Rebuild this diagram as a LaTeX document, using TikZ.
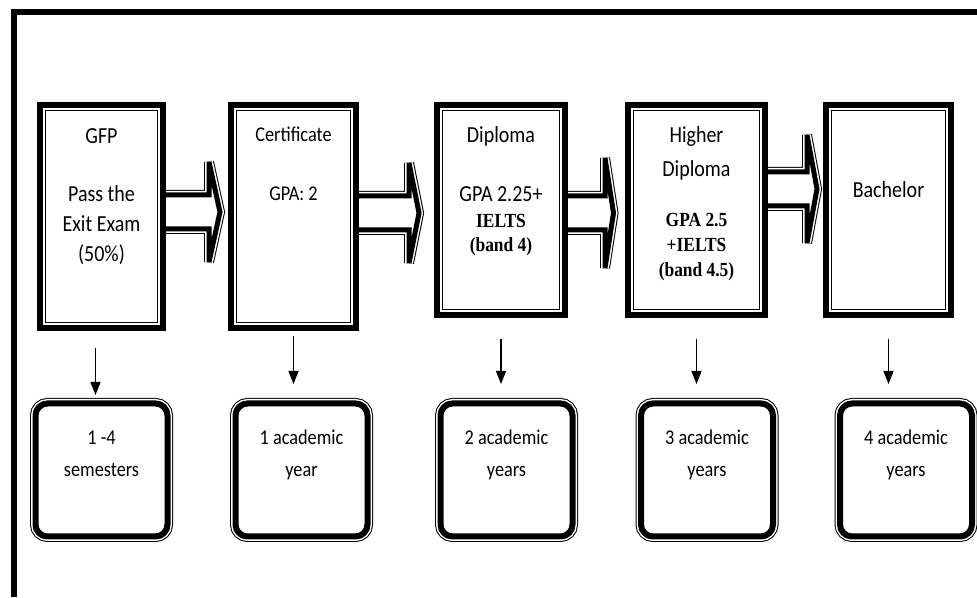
\documentclass[tikz,border=0pt]{standalone}
\usepackage{fontspec}
\setmainfont{Carlito}[FakeStretch=0.87]
\newfontfamily\timesfont{Liberation Serif}[FakeStretch=0.87]
\usetikzlibrary{arrows.meta,calc,backgrounds}

\newcommand{\boxtext}[3]{\parbox[c][#2][t]{#1}{\centering #3}}
\newcommand{\tb}{\timesfont\bfseries\fontsize{20}{30}\selectfont}
% hollow block arrow: from, to, y, head half width, head length, gap
\newcommand{\fatarrow}[6]{%
  \draw[blockarrow] let \p1=(#1.east), \p2=(#2.west) in
    (\x1-10pt,#3+17) -- (\x2-#6pt-#5pt,#3+17) -- (\x2-#6pt-#5pt,#3+#4)
    -- (\x2-#6pt,#3) -- (\x2-#6pt-#5pt,#3-#4) -- (\x2-#6pt-#5pt,#3-17)
    -- (\x1-10pt,#3-17) -- cycle;}

\begin{document}
\begin{tikzpicture}[%
    x=1pt, y=1pt,
    >={Triangle[length=13pt,width=10pt]},
    stage/.style={draw, fill=white, line width=6pt, inner sep=0pt,
      font=\fontsize{23}{30}\selectfont,
      path picture={\draw[line width=1pt]
        ([shift={(5.5pt,5.5pt)}]path picture bounding box.south west) rectangle
        ([shift={(-5.5pt,-5.5pt)}]path picture bounding box.north east);}},
    period/.style={draw, fill=white, line width=6pt, rounded corners=12pt,
      inner sep=0pt, font=\fontsize{21}{32}\selectfont,
      preaction={draw, line width=11pt},
      preaction={draw, white, line width=9pt}},
    blockarrow/.style={draw, fill=white, line width=5pt, miter limit=2,
      preaction={draw, line width=10pt, miter limit=2},
      preaction={draw, white, line width=8pt, miter limit=2}},
    down/.style={->, line width=1.2pt}
  ]
    \useasboundingbox (0,0) rectangle (977,597);
    \draw[line width=6pt] (13.5,0) |- (977,585);

    \node[stage] (gfp) at (101.5,380.5) {\boxtext{123pt}{223pt}{\rule{0pt}{39pt}GFP\\[28pt]
      Pass the\\ Exit Exam\\ (50\%)}};
    \node[stage, font=\fontsize{21}{30}\selectfont] (cert) at (293.5,380.5)
      {\boxtext{125pt}{223pt}{\rule{0pt}{37pt}Certificate\\[29pt] GPA: 2}};
    \node[stage] (dipl) at (501,387) {\boxtext{128pt}{210pt}{\rule{0pt}{38pt}Diploma\\[29pt]
      GPA 2.25+\\[-4pt] {\tb IELTS}\\[-6pt] {\tb (band 4)}}};
    \node[stage] (high) at (696.5,387) {\boxtext{137pt}{210pt}{\rule{0pt}{38pt}Higher\\[4pt]
      Diploma\\[20pt] {\tb GPA 2.5}\\[-5pt] {\tb +IELTS}\\[-5pt] {\tb (band 4.5)}}};
    \node[stage] (bach) at (888.5,387) {\boxtext{125pt}{210pt}{\rule{0pt}{93pt}Bachelor}};

    \node[period] (t1) at (101.5,127) {\boxtext{132pt}{133pt}{\rule{0pt}{41.5pt}1 -4\\ semesters}};
    \node[period] (t2) at (301.5,127) {\boxtext{132pt}{133pt}{\rule{0pt}{41.5pt}1 academic\\ year}};
    \node[period] (t3) at (506.5,127) {\boxtext{132pt}{133pt}{\rule{0pt}{41.5pt}2 academic\\ years}};
    \node[period] (t4) at (707,127) {\boxtext{132pt}{133pt}{\rule{0pt}{41.5pt}3 academic\\ years}};
    \node[period] (t5) at (906,127) {\boxtext{132pt}{133pt}{\rule{0pt}{41.5pt}4 academic\\ years}};

    \begin{scope}[on background layer]
      \fatarrow{gfp}{cert}{385}{50}{11}{8}
      \fatarrow{cert}{dipl}{384}{50}{10}{15}
      \fatarrow{dipl}{high}{384}{55}{8.5}{11.5}
      \fatarrow{high}{bach}{408}{54}{10}{6}
    \end{scope}

    \draw[down] ($(gfp.south)+(-6,-17)$) -- ($(gfp.south |- t1.north)+(-6,5.5)$);
    \draw[down] ($(cert.south)+(0,-5)$) -- ($(cert.south |- t2.north)+(0,16.5)$);
    \foreach \a/\b in {dipl/t3, high/t4, bach/t5}
      \draw[down] ($(\a.south)+(0,-21)$) -- ($(\a.south |- \b.north)+(0,16.5)$);
  \end{tikzpicture}
\end{document}
